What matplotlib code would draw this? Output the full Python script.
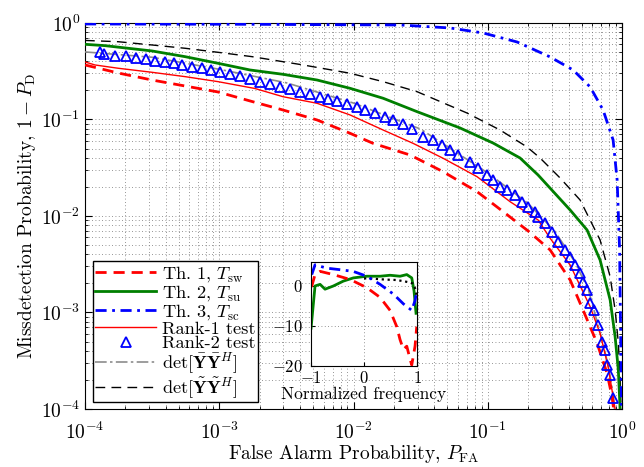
import numpy as np
import matplotlib
matplotlib.use('Agg')
import matplotlib.pyplot as plt

plt.rcParams['font.family'] = 'serif'
plt.rcParams['font.serif'] = ['cmr10']
plt.rcParams['mathtext.fontset'] = 'cm'
plt.rcParams['axes.formatter.use_mathtext'] = True

# ROC curves, values as log10(P_FA), log10(1 - P_D)
th1_lx = [-4.0, -3.754, -3.501, -3.255, -3.009, -2.771, -2.525, -2.272, -2.026, -1.855,
          -1.579, -1.333, -1.080, -0.886, -0.700, -0.536, -0.387, -0.291, -0.186, -0.112,
          -0.075, -0.063]
th1_ly = [-0.435, -0.518, -0.591, -0.653, -0.715, -0.808, -0.902, -1.005, -1.143, -1.247,
          -1.368, -1.541, -1.748, -1.955, -2.155, -2.352, -2.663, -2.974, -3.319, -3.630,
          -3.873, -4.0]

th2_lx = [-4.0, -3.851, -3.680, -3.501, -3.255, -3.009, -2.771, -2.525, -2.272, -2.026,
          -1.780, -1.527, -1.207, -0.961, -0.760, -0.626, -0.387, -0.261, -0.164, -0.089,
          -0.052, -0.028, -0.015]
th2_ly = [-0.221, -0.235, -0.262, -0.290, -0.349, -0.418, -0.487, -0.532, -0.591, -0.677,
          -0.780, -0.919, -1.088, -1.244, -1.399, -1.575, -1.938, -2.145, -2.456, -2.870,
          -3.251, -3.596, -4.0]

th3_lx = [-4.0, -2.771, -2.026, -1.654, -1.281, -1.035, -0.782, -0.536, -0.365, -0.238,
          -0.1415, -0.067, -0.037, -0.0186, -0.0112, -0.005]
th3_ly = [-0.0104, -0.0135, -0.0187, -0.0207, -0.0518, -0.1036, -0.197, -0.352, -0.487, -0.663,
          -0.902, -1.212, -1.627, -2.352, -3.181, -4.0]

rank1_lx = [-4.0, -3.926, -3.754, -3.501, -3.255, -3.009, -2.734, -2.525, -2.272, -2.026,
            -1.780, -1.557, -1.333, -1.080, -0.834, -0.626, -0.536, -0.387, -0.238, -0.164,
            -0.104, -0.067, -0.052]
rank1_ly = [-0.404, -0.435, -0.469, -0.511, -0.556, -0.608, -0.679, -0.764, -0.832, -0.953,
            -1.109, -1.247, -1.402, -1.593, -1.852, -2.041, -2.231, -2.508, -2.940, -3.216,
            -3.562, -3.873, -4.0]

rank2_lx = [-3.888, -3.856, -3.777, -3.697, -3.622, -3.548, -3.479, -3.404, -3.335, -3.280,
            -3.205, -3.131, -3.061, -2.994, -2.920, -2.845, -2.771, -2.696, -2.622, -2.547,
            -2.473, -2.399, -2.324, -2.250, -2.188, -2.125, -2.051, -1.976, -1.914, -1.840,
            -1.765, -1.704, -1.629, -1.564, -1.480, -1.406, -1.343, -1.281, -1.219, -1.132,
            -1.070, -1.008, -0.959, -0.909, -0.859, -0.797, -0.747, -0.698, -0.648, -0.623,
            -0.574, -0.524, -0.474, -0.425, -0.387, -0.350, -0.313, -0.288, -0.263, -0.238,
            -0.209, -0.177, -0.151, -0.127, -0.110, -0.089, -0.065]
rank2_ly = [-0.304, -0.324, -0.339, -0.345, -0.360, -0.373, -0.391, -0.407, -0.418, -0.435,
            -0.453, -0.469, -0.490, -0.511, -0.532, -0.552, -0.580, -0.608, -0.635, -0.660,
            -0.684, -0.712, -0.739, -0.764, -0.788, -0.808, -0.842, -0.867, -0.902, -0.936,
            -0.971, -1.005, -1.050, -1.100, -1.178, -1.212, -1.264, -1.316, -1.368, -1.437,
            -1.506, -1.575, -1.627, -1.696, -1.731, -1.782, -1.852, -1.904, -1.955, -2.007,
            -2.076, -2.163, -2.266, -2.352, -2.422, -2.508, -2.594, -2.681, -2.767, -2.905,
            -2.974, -3.130, -3.303, -3.389, -3.544, -3.648, -3.889]

detbar_lx = [-4.0, -3.5, -3.0, -2.5, -2.0, -1.5, -1.0, -0.7, -0.5, -0.35, -0.25, -0.15,
             -0.1, -0.065, -0.058]
detbar_ly = [-0.30, -0.355, -0.48, -0.62, -0.83, -1.10, -1.555, -1.87, -2.16, -2.48, -2.77,
             -3.28, -3.57, -3.86, -4.0]

dettil_lx = [-4.0, -3.754, -3.501, -3.255, -3.009, -2.756, -2.376, -2.026, -1.780, -1.527,
             -1.155, -0.909, -0.708, -0.611, -0.462, -0.313, -0.164, -0.089, -0.052, -0.028,
             -0.015, -0.0075]
dettil_ly = [-0.181, -0.194, -0.228, -0.262, -0.304, -0.349, -0.435, -0.521, -0.608, -0.712,
             -0.933, -1.109, -1.285, -1.399, -1.606, -1.834, -2.249, -2.629, -2.974, -3.316,
             -3.668, -4.0]

# inset: spectra in dB vs normalized frequency
in_red_f = [-0.99, -0.925, -0.830, -0.579, -0.264, 0.051, 0.302, 0.491, 0.617, 0.679,
            0.742, 0.806, 0.868, 0.900, 0.962, 0.994]
in_red_v = [-0.24, 2.85, 3.66, 2.85, 1.63, -0.41, -2.85, -6.10, -10.17, -13.41,
            -15.85, -15.05, -18.29, -19.76, -15.05, -10.17]
in_green_f = [-1.0, -0.925, -0.830, -0.736, -0.579, -0.391, -0.202, 0.051, 0.302, 0.491,
              0.679, 0.806, 0.900, 0.943, 0.981]
in_green_v = [-10.56, 0.0, 0.41, -0.80, 0.0, 1.22, 2.02, 2.44, 2.44, 2.68,
              2.44, 2.85, 2.02, -1.22, -6.83]
in_blue_f = [-0.987, -0.925, -0.704, -0.453, -0.208, 0.051, 0.302, 0.553, 0.742, 0.900,
             0.962, 0.994]
in_blue_v = [2.85, 5.3, 4.46, 4.07, 3.66, 2.44, 0.41, -2.02, -4.46, -6.10, -3.66, -1.22]
in_black_f = [0.0, 0.2, 0.4, 0.6, 0.75, 0.85, 0.92, 0.97, 1.0]
in_black_v = [1.9, 1.8, 1.6, 1.5, 1.2, 0.9, 0.6, -0.8, -3.0]


def p(v):
    return np.power(10.0, np.array(v))


fig = plt.figure(figsize=(6.44, 4.67), dpi=100)
ax = fig.add_axes([0.132, 0.1242, 0.834, 0.8266])

ax.plot(p(detbar_lx), p(detbar_ly), color='0.55', lw=1.2, dashes=(7, 2, 1.5, 2),
        label=r'$\det[\bar{\mathbf{Y}}\bar{\mathbf{Y}}^H]$', zorder=3)
ax.plot(p(dettil_lx), p(dettil_ly), color='k', lw=1.0, dashes=(7, 4.5),
        label=r'$\det[\tilde{\mathbf{Y}}\tilde{\mathbf{Y}}^H]$', zorder=3)
ax.plot(p(th2_lx), p(th2_ly), color='#007f00', lw=2.0, label=r'Th. 2, $T_{\mathrm{su}}$', zorder=4)
ax.plot(p(th3_lx), p(th3_ly), color='b', lw=2.0, dashes=(4, 2, 1, 2),
        label=r'Th. 3, $T_{\mathrm{sc}}$', zorder=4)
ax.plot(p(rank2_lx), p(rank2_ly), linestyle='none', marker='^', ms=7.5, mfc='none',
        mec='b', mew=1.3, label='Rank-2 test', zorder=5)
ax.plot(p(rank1_lx), p(rank1_ly), color='r', lw=1.0, label='Rank-1 test', zorder=4)
ax.plot(p(th1_lx), p(th1_ly), color='r', lw=2.0, dashes=(4, 2.5),
        label=r'Th. 1, $T_{\mathrm{sw}}$', zorder=4)

ax.set_xscale('log')
ax.set_yscale('log')
ax.set_xlim(1e-4, 1)
ax.set_ylim(1e-4, 1)
ax.grid(True, which='both', linestyle=(0, (1, 3)), linewidth=0.6, color='0.45')
ax.tick_params(which='both', direction='in', top=True, right=True, labelsize=14)
ax.tick_params(axis='x', which='both', pad=9)
ax.tick_params(which='major', length=5)
ax.tick_params(which='minor', length=2.5)
ax.set_xlabel(r'False Alarm Probability, $P_{\mathrm{FA}}$', fontsize=14, labelpad=0)
ax.set_ylabel(r'Missdetection Probability, $1-P_{\mathrm{D}}$', fontsize=14, labelpad=2)

# legend order as in the figure
h, l = ax.get_legend_handles_labels()
order = [6, 2, 3, 5, 4, 0, 1]
leg = ax.legend([h[i] for i in order], [l[i] for i in order], loc='lower left',
                bbox_to_anchor=(0.015, 0.018), borderaxespad=0, fontsize=13.2,
                labelspacing=-0.05, handlelength=3.3, handletextpad=0.35,
                borderpad=0.12, fancybox=False, framealpha=1, edgecolor='k')
leg.get_frame().set_linewidth(1.0)

ins = fig.add_axes([0.483, 0.2163, 0.1646, 0.2227])
ins.plot(in_green_f, in_green_v, color='#007f00', lw=2.0)
ins.plot(in_black_f, in_black_v, color='k', lw=1.6, linestyle=':')
ins.plot(in_blue_f, in_blue_v, color='b', lw=2.0, dashes=(4, 2, 1, 2))
ins.plot(in_red_f, in_red_v, color='r', lw=2.0, dashes=(4, 2.5))
ins.set_xlim(-1, 1)
ins.set_ylim(-20, 6)
ins.set_xticks([-1, 0, 1])
ins.set_yticks([-20, -10, 0])
ins.grid(True, linestyle=(0, (1, 3)), linewidth=0.6, color='0.45')
ins.tick_params(direction='in', labelsize=12, length=3)
ins.tick_params(axis='y', pad=6)
ins.tick_params(axis='x', pad=3)
ins.set_xlabel('Normalized frequency', fontsize=12.5, labelpad=0)

fig.savefig('out.png', dpi=100)
